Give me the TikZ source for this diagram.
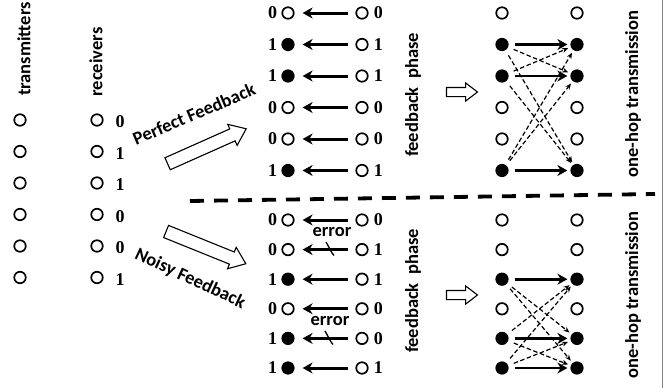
\documentclass[tikz,border=0pt]{standalone}
\usepackage{fontspec}
\newfontfamily\lblfont{Carlito}
\newfontfamily\bitfont{Liberation Serif}
\usetikzlibrary{arrows.meta,shapes.arrows,positioning}

\begin{document}
\begin{tikzpicture}[x=1pt,y=-1pt,>=Stealth,semithick]
  \tikzstyle{every node}=[inner sep=0pt]
  \tikzstyle{emp}=[circle,draw,line width=1.7pt,minimum size=11.5pt]
  \tikzstyle{ful}=[emp,fill=black]
  \tikzstyle{bit}=[font=\bitfont\bfseries\fontsize{18}{18}\selectfont]
  \tikzstyle{lbl}=[font=\lblfont\bfseries\fontsize{18.5}{18.5}\selectfont]
  \tikzstyle{fb}=[>={Stealth[length=10pt,width=11pt]},->,line width=3pt,
                  shorten >=8pt,shorten <=7pt]
  \tikzstyle{hop}=[>={Stealth[length=10pt,width=11pt]},->,line width=2.6pt,
                   shorten >=3pt,shorten <=6pt]
  \tikzstyle{xhop}=[>={Stealth[length=6pt,width=5pt]},->,line width=1.2pt,
                    dash pattern=on 4.5pt off 2.5pt,shorten >=3pt,shorten <=6pt]
  \tikzstyle{big}=[single arrow,draw,line width=1.1pt,inner sep=6pt,
                   single arrow head extend=5pt,single arrow tip angle=75]

  \useasboundingbox (0,0) rectangle (665,388);

  % left: transmitters and receivers
  \node[lbl,rotate=90] (tx) at (24,49) {transmitters};
  \node[lbl,rotate=90] (rx) at (96,62) {receivers};
  \foreach \b [count=\i] in {0,1,1,0,0,1} {
    \node[emp] (t\i) at (20,120+31.5*\i-31.5) {};
    \node[emp] (r\i) at (97,120+31.5*\i-31.5) {};
    \node[bit] (rb\i) at (120,122+31.5*\i-31.5) {\b};
  }

  \node[big,minimum height=86pt,rotate=24] (pf) at (203,148) {};
  \node[lbl,rotate=23] (pft) at (194,114) {Perfect Feedback};
  \node[big,minimum height=86pt,rotate=-22] (nf) at (202,246) {};
  \node[lbl,rotate=-25] (nft) at (190,279) {Noisy Feedback};

  % perfect feedback phase
  \foreach \s/\b [count=\i] in {emp/0,ful/1,ful/1,emp/0,emp/0,ful/1} {
    \node[\s] (pa\i) at (288,13+31.5*\i-31.5) {};
    \node[bit,left=4pt of pa\i] (pab\i) {\b};
    \node[emp] (pb\i) at (362,13+31.5*\i-31.5) {};
    \node[bit,right=5pt of pb\i] (pbb\i) {\b};
    \path (pb\i) edge[fb] (pa\i);
  }
  \node[lbl,rotate=90] (pph) at (413,95) {feedback\ \ phase};
  \node[big,minimum height=31pt,inner sep=4pt,single arrow head extend=4.5pt] (pg) at (459,92) {};

  % one-hop, perfect
  \foreach \s [count=\i] in {emp,ful,ful,emp,emp,ful} {
    \node[\s] (ha\i) at (502,13+31.5*\i-31.5) {};
    \node[\s] (hb\i) at (577,13+31.5*\i-31.5) {};
  }
  \path (ha2) edge[hop] (hb2) edge[xhop] (hb3) edge[xhop] (hb6)
        (ha3) edge[hop] (hb3) edge[xhop] (hb2) edge[xhop] (hb6)
        (ha6) edge[hop] (hb6) edge[xhop] (hb2) edge[xhop] (hb3);
  \node[lbl,rotate=90] (poh) at (633,94) {one-hop transmission};

  % separator
  \coordinate (sepL) at (190,201);
  \coordinate (sepR) at (655,194);
  \draw[line width=3.8pt,dash pattern=on 14pt off 10pt] (sepL) -- (sepR);

  % noisy feedback phase
  \foreach \s/\b/\c [count=\i] in {emp/0/0,emp/0/1,ful/1/1,emp/0/0,ful/1/0,ful/1/1} {
    \node[\s] (na\i) at (288,220+29.6*\i-29.6) {};
    \node[bit,left=4pt of na\i] (nab\i) {\b};
    \node[emp] (nb\i) at (362,220+29.6*\i-29.6) {};
    \node[bit,right=5pt of nb\i] (nbb\i) {\c};
    \path (nb\i) edge[fb] (na\i);
  }
  \node[lbl] (er2) at (332,232) {error};
  \node[lbl] (er5) at (330,321) {error};
  \draw[line width=1.3pt] ([shift={(-6,5)}]er2.south) -- ++(6,11) -- ++(2,2.5);
  \draw[line width=1.3pt] ([shift={(-5,5)}]er5.south) -- ++(6,11) -- ++(2,2.5);
  \node[lbl,rotate=90] (nph) at (413,291) {feedback\ \ phase};
  \node[big,minimum height=31pt,inner sep=4pt,single arrow head extend=4.5pt] (ng) at (459,295) {};

  % one-hop, noisy
  \foreach \s [count=\i] in {emp,emp,ful,emp,ful,ful} {
    \node[\s] (ka\i) at (502,220+29.6*\i-29.6) {};
    \node[\s] (kb\i) at (577,220+29.6*\i-29.6) {};
  }
  \path (ka3) edge[hop] (kb3) edge[xhop] (kb5) edge[xhop] (kb6)
        (ka5) edge[hop] (kb5) edge[xhop] (kb3) edge[xhop] (kb6)
        (ka6) edge[hop] (kb6) edge[xhop] (kb3) edge[xhop] (kb5);
  \node[lbl,rotate=90] (noh) at (633,295) {one-hop transmission};

  \draw[gray,line width=0.8pt] (662,0) -- (662,388);
\end{tikzpicture}
\end{document}
